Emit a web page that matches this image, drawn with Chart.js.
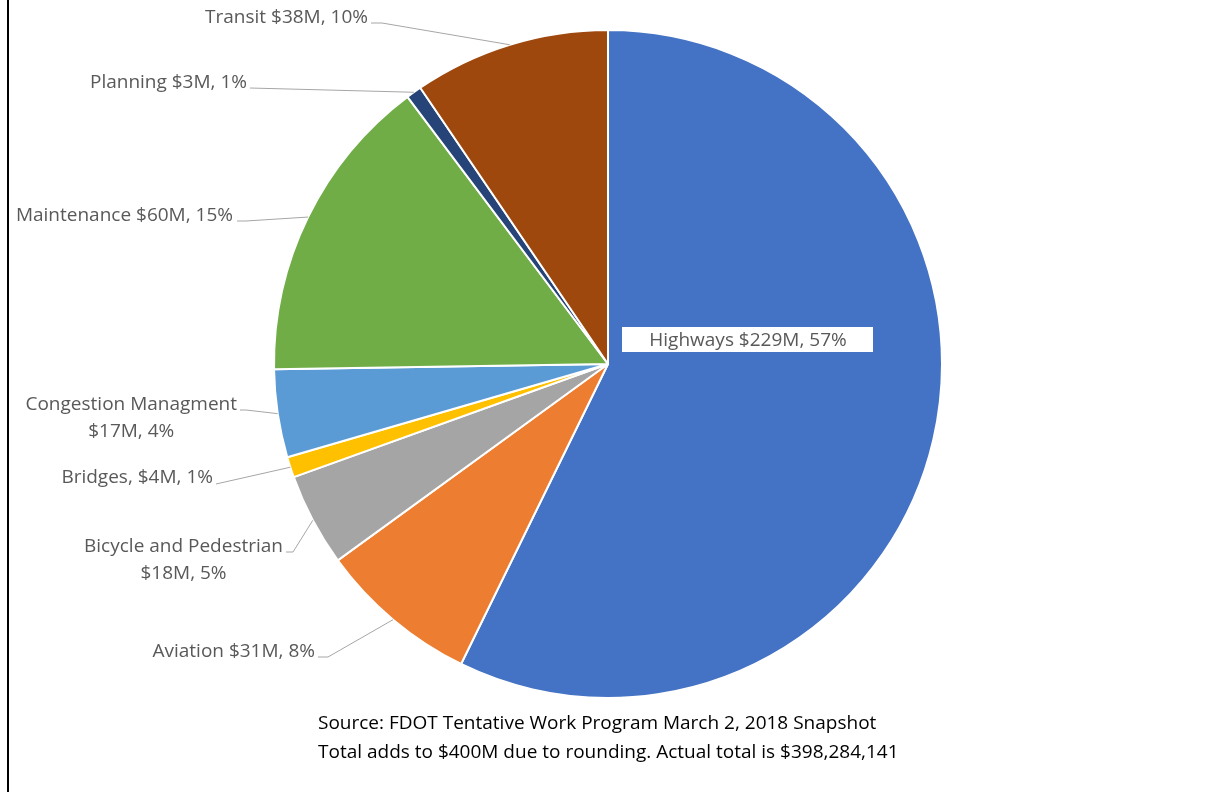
<!DOCTYPE html>
<html>
<head>
<meta charset="utf-8">
<script src="https://cdn.jsdelivr.net/npm/chart.js@4/dist/chart.umd.min.js"></script>
<style>
  html, body { margin: 0; padding: 0; background: #fff; }
  #wrap { position: relative; width: 1231px; height: 792px; }
  #edge { position: absolute; left: 7px; top: 0; width: 2px; height: 792px; background: #000; }
</style>
</head>
<body>
<div id="wrap">
  <canvas id="pieChart" width="1231" height="792"></canvas>
  <div id="edge"></div>
</div>
<script>
// Work program by mode ($M), clockwise from 12 o'clock
const categories = ['Highways', 'Aviation', 'Bicycle and Pedestrian', 'Bridges',
  'Congestion Managment', 'Maintenance', 'Planning', 'Transit'];
const amounts = [229, 31, 18, 4, 17, 60, 3, 38];
const labelTexts = [
  ['Highways $229M, 57%'],
  ['Aviation $31M, 8%'],
  ['Bicycle and Pedestrian', '$18M, 5%'],
  ['Bridges, $4M, 1%'],
  ['Congestion Managment', '$17M, 4%'],
  ['Maintenance $60M, 15%'],
  ['Planning $3M, 1%'],
  ['Transit $38M, 10%']
];
const sourceNotes = [
  'Source: FDOT Tentative Work Program March 2, 2018 Snapshot',
  'Total adds to $400M due to rounding. Actual total is $398,284,141'
];

const colors = ['#4472C4', '#ED7D31', '#A5A5A5', '#FFC000', '#5B9BD5', '#70AD47', '#264478', '#9E480E'];

// where each outside label sits: right edge of the text block, first line centre,
// and where its leader line starts (with optional elbow)
const labelLayout = [
  null,
  { x: 315, y: 651, start: [318, 657], elbow: [328, 657] },
  { x: 283, y: 546, start: [286, 552], elbow: [293, 552] },
  { x: 213, y: 477, start: [216, 484], elbow: null },
  { x: 237, y: 404, start: [240, 410], elbow: [246, 410] },
  { x: 233, y: 215, start: [237, 221], elbow: [246, 221] },
  { x: 247, y: 82, start: [250, 88], elbow: null },
  { x: 368, y: 17, start: [371, 23], elbow: [382, 23] }
];

const labelFont = '19px "Open Sans"';
const lineGap = 27;

const pieLabels = {
  id: 'pieLabels',
  afterDraw(chart) {
    const ctx = chart.ctx;
    const arcs = chart.getDatasetMeta(0).data;
    ctx.save();
    ctx.font = labelFont;
    ctx.textBaseline = 'middle';

    arcs.forEach((arc, i) => {
      const p = arc.getProps(['x', 'y', 'startAngle', 'endAngle', 'outerRadius'], true);
      const mid = (p.startAngle + p.endAngle) / 2;
      const lines = labelTexts[i];

      if (i === 0) {
        // Highways label in a white box inside the slice
        const cx = 748, cy = 340;
        ctx.fillStyle = '#fff';
        ctx.fillRect(622, cy - 13, 251, 25);
        ctx.fillStyle = '#595959';
        ctx.textAlign = 'center';
        ctx.fillText(lines[0], cx, cy + 1);
        return;
      }

      const lay = labelLayout[i];
      const widths = lines.map(t => ctx.measureText(t).width);
      const blockW = Math.max(...widths);
      const centerX = lay.x - blockW / 2;
      ctx.fillStyle = '#595959';
      ctx.textAlign = 'center';
      lines.forEach((t, k) => ctx.fillText(t, centerX, lay.y + 1 + k * lineGap));

      // leader line to the slice edge
      const ex = p.x + Math.cos(mid) * p.outerRadius;
      const ey = p.y + Math.sin(mid) * p.outerRadius;
      ctx.strokeStyle = '#A6A6A6';
      ctx.lineWidth = 1;
      ctx.beginPath();
      ctx.moveTo(lay.start[0], lay.start[1]);
      if (lay.elbow) ctx.lineTo(lay.elbow[0], lay.elbow[1]);
      ctx.lineTo(ex, ey);
      ctx.stroke();
    });

    // source note under the pie
    ctx.font = '19px "Open Sans"';
    ctx.fillStyle = '#000';
    ctx.textAlign = 'left';
    sourceNotes.forEach((t, k) => ctx.fillText(t, 318, 724 + k * 29));
    ctx.restore();
  }
};

const ctx = document.getElementById('pieChart').getContext('2d');
new Chart(ctx, {
  type: 'pie',
  data: {
    labels: categories,
    datasets: [
      {
        data: amounts,
        backgroundColor: colors,
        borderColor: '#fff',
        borderWidth: 2
      }
    ]
  },
  options: {
    responsive: false,
    animation: false,
    events: [],
    layout: {
      padding: { top: 29, bottom: 93, left: 273, right: 288 }
    },
    plugins: {
      legend: { display: false },
      tooltip: { enabled: false }
    }
  },
  plugins: [pieLabels]
});
</script>
</body>
</html>
